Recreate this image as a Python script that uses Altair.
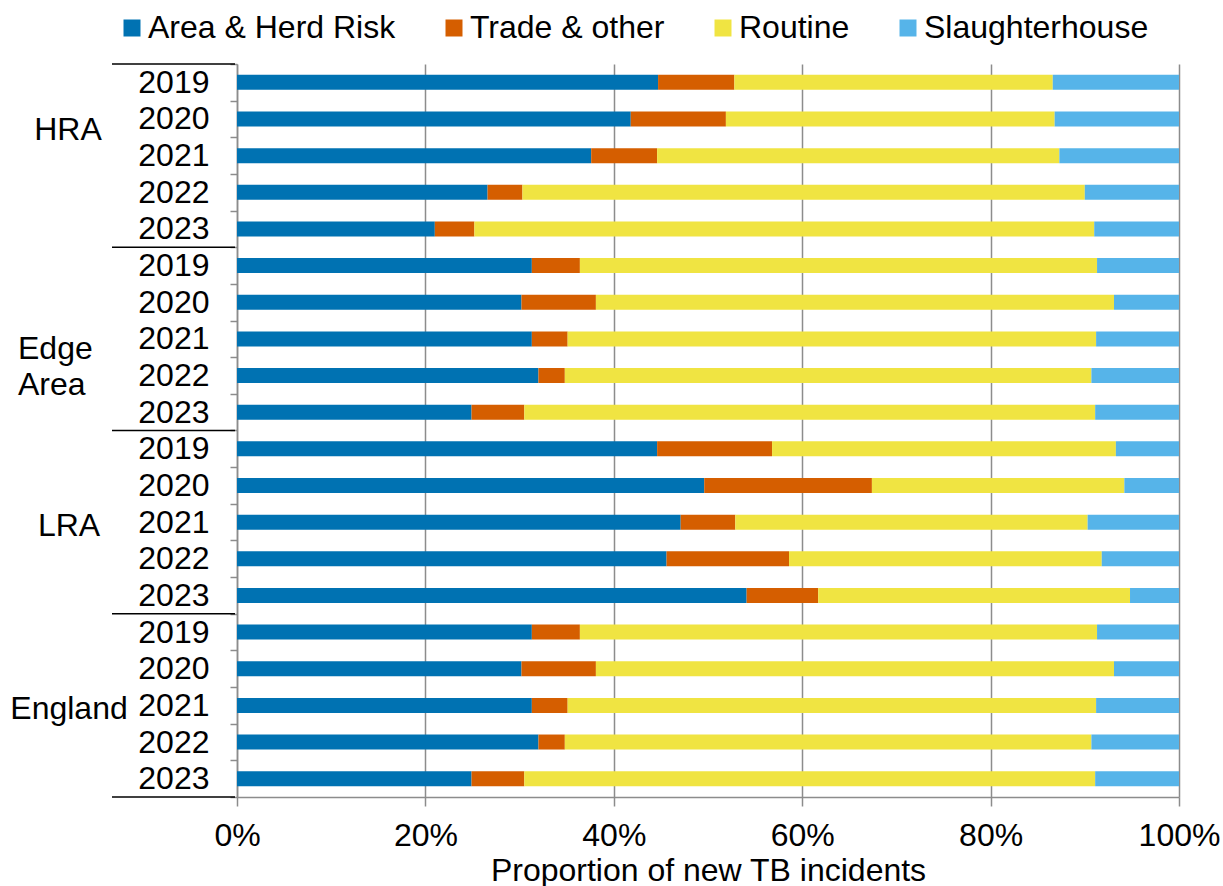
import altair as alt
import pandas as pd

# Shares of new TB incidents by detection route, per risk area and year (%)
groups = ["HRA", "Edge Area", "LRA", "England"]
years = ["2019", "2020", "2021", "2022", "2023"]
routes = ["Area & Herd Risk", "Trade & other", "Routine", "Slaughterhouse"]
colors = ["#0072B2", "#D55E00", "#F0E442", "#56B4E9"]

area_herd = {
    "HRA":       [44.7, 41.8, 37.6, 26.6, 21.0],
    "Edge Area": [31.3, 30.2, 31.3, 32.0, 24.9],
    "LRA":       [44.6, 49.6, 47.1, 45.6, 54.1],
    "England":   [31.3, 30.2, 31.3, 32.0, 24.9],
}
trade = {
    "HRA":       [8.1, 10.1, 7.0, 3.7, 4.2],
    "Edge Area": [5.1, 7.9, 3.8, 2.8, 5.6],
    "LRA":       [12.2, 17.8, 5.8, 13.0, 7.6],
    "England":   [5.1, 7.9, 3.8, 2.8, 5.6],
}
routine = {
    "HRA":       [33.8, 34.9, 42.7, 59.7, 65.8],
    "Edge Area": [54.9, 55.0, 56.1, 55.9, 60.6],
    "LRA":       [36.5, 26.8, 37.4, 33.2, 33.1],
    "England":   [54.9, 55.0, 56.1, 55.9, 60.6],
}
slaughter = {
    "HRA":       [13.4, 13.2, 12.7, 10.0, 9.0],
    "Edge Area": [8.7, 6.9, 8.8, 9.3, 8.9],
    "LRA":       [6.7, 5.8, 9.7, 8.2, 5.2],
    "England":   [8.7, 6.9, 8.8, 9.3, 8.9],
}

FONT = "Liberation Sans, Arial, Helvetica, sans-serif"
GRID = "#8c8c8c"

keys = [f"{g}|{y}" for g in groups for y in years]
series = [area_herd, trade, routine, slaughter]

rows = []
for g in groups:
    for i, y in enumerate(years):
        for k, (route, table) in enumerate(zip(routes, series)):
            rows.append({"key": f"{g}|{y}", "route": route, "order": k,
                         "value": table[g][i]})
df = pd.DataFrame(rows)

yscale = alt.Scale(domain=keys, paddingInner=0, paddingOuter=0)

bars = alt.Chart(df).mark_bar(size=15).encode(
    x=alt.X(
        "value:Q",
        stack="zero",
        scale=alt.Scale(domain=[0, 100], nice=False),
        axis=alt.Axis(
            values=[0, 20, 40, 60, 80, 100],
            labelExpr="datum.value + '%'",
            labelFlush=False,
            title="Proportion of new TB incidents",
            titleFontSize=32, titleFont=FONT, titleFontWeight="normal",
            titleColor="black", titlePadding=4,
            labelFontSize=32, labelFont=FONT, labelColor="black",
            labelPadding=14,
            grid=True, gridColor=GRID, gridWidth=1.5,
            domainColor=GRID, domainWidth=1.5,
            tickColor=GRID, tickWidth=1.5, tickSize=9,
        ),
    ),
    y=alt.Y(
        "key:N",
        scale=yscale,
        title=None,
        axis=alt.Axis(
            labelExpr="split(datum.label, '|')[1]",
            labelFontSize=32, labelFont=FONT, labelColor="black",
            labelPadding=21,
            tickBand="extent", tickSize=7, tickColor=GRID, tickWidth=1.5,
            domainColor=GRID, domainWidth=1.5,
            grid=False,
        ),
    ),
    color=alt.Color(
        "route:N",
        scale=alt.Scale(domain=routes, range=colors),
        legend=alt.Legend(
            title=None, orient="none", legendX=-121, legendY=-52,
            direction="horizontal", symbolType="square", symbolSize=289,
            symbolStrokeWidth=0, labelFontSize=32, labelFont=FONT,
            labelColor="black", labelOffset=0, columnPadding=42, padding=0,
            labelLimit=400,
        ),
    ),
    order=alt.Order("order:Q", sort="ascending"),
)

# Group names on the left of the year labels
def group_label(names, anchor_year, dy, x, align):
    d = pd.DataFrame({"key": [f"{n}|{anchor_year}" for n in names],
                      "label": [n.replace(" ", "\n") for n in names]})
    return alt.Chart(d).mark_text(
        fontSize=32, font=FONT, color="black", align=align,
        baseline="middle", dy=dy, lineBreak="\n", lineHeight=36.5,
    ).encode(
        y=alt.Y("key:N", scale=yscale, title=None),
        x=alt.value(x),
        text="label:N",
    )

lbl_hra = group_label(["HRA"], "2021", -26, -169, "center")
lbl_edge = group_label(["Edge Area"], "2021", 10, -219, "left")
lbl_rest = group_label(["LRA", "England"], "2021", 4, -168, "center")

# Separator lines between the area groups
sep_top = alt.Chart(pd.DataFrame({"key": [f"{g}|2019" for g in groups]})).mark_rule(
    color="black", strokeWidth=1.5
).encode(
    y=alt.Y("key:N", scale=yscale, title=None, bandPosition=0),
    x=alt.value(-125), x2=alt.value(-2),
)
sep_bottom = alt.Chart(pd.DataFrame({"key": [f"{groups[-1]}|{years[-1]}"]})).mark_rule(
    color="black", strokeWidth=1.5
).encode(
    y=alt.Y("key:N", scale=yscale, title=None, bandPosition=1),
    x=alt.value(-125), x2=alt.value(-2),
)

chart = alt.layer(bars, lbl_hra, lbl_edge, lbl_rest, sep_top, sep_bottom).properties(
    width=942, height=733,
    autosize=alt.AutoSizeParams(type="none"),
    padding={"left": 237, "top": 64, "right": 44, "bottom": 89},
    background="white",
).configure_view(strokeWidth=0)

chart.save("out.html", embed_options={"renderer": "svg", "actions": False})
